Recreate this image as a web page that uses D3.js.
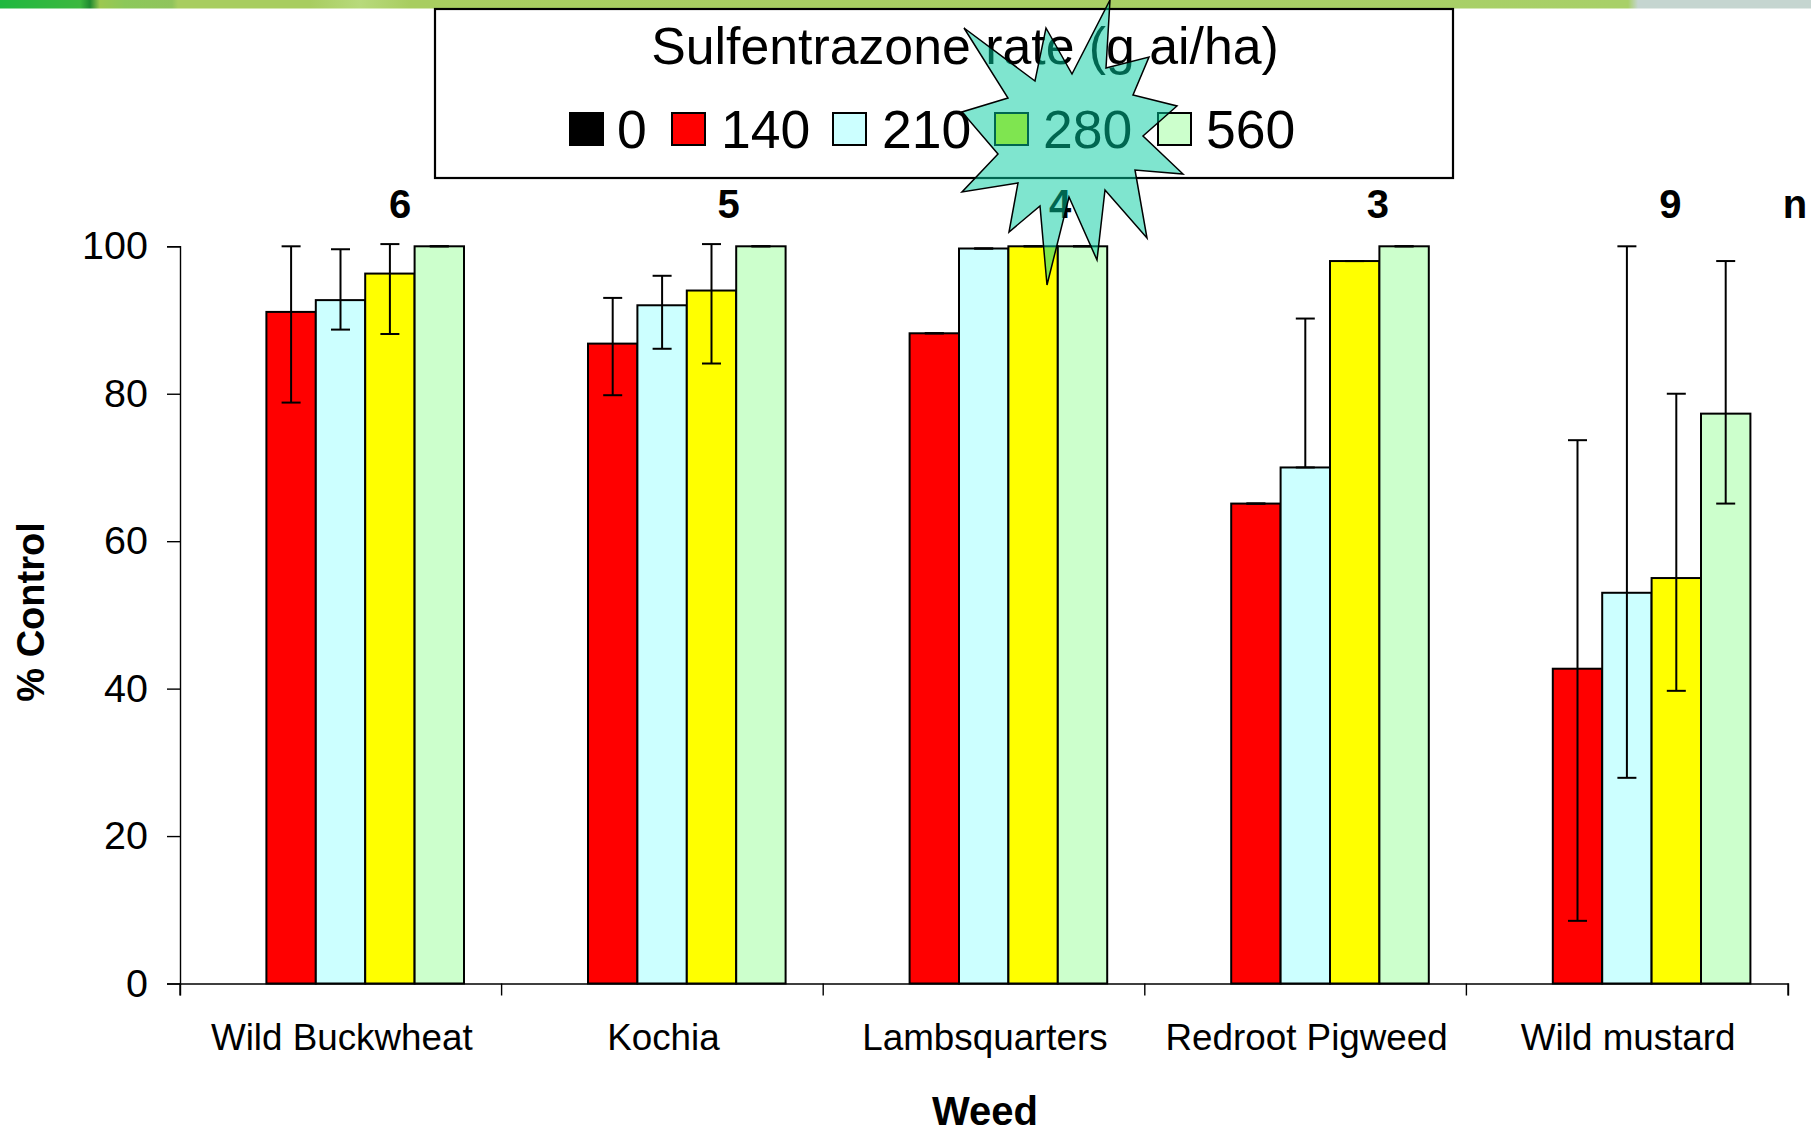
<!DOCTYPE html>
<html>
<head>
<meta charset="utf-8">
<script src="https://cdn.jsdelivr.net/npm/d3@7"></script>
<style>
html, body { margin: 0; padding: 0; background: #fff; overflow: hidden; }
text { font-family: "Liberation Sans", Arial, sans-serif; fill: #000; }
</style>
</head>
<body>
<script>
var width = 1811,
    height = 1128;

var weeds = ["Wild Buckwheat", "Kochia", "Lambsquarters", "Redroot Pigweed", "Wild mustard"];
var nCounts = ["6", "5", "4", "3", "9"];
var rates = ["0", "140", "210", "280", "560"];
var rateColors = ["#000000", "#ff0000", "#ccffff", "#ffff00", "#ccffcc"];
var yTicks = [0, 20, 40, 60, 80, 100];

// one row per weed, one column per rate. the 0 rate has no bar
var values = [
    [0, 91.1, 92.7, 96.3, 100],
    [0, 86.8, 92, 94, 100],
    [0, 88.2, 99.7, 100, 100],
    [0, 65.1, 70, 98, 100],
    [0, 42.7, 53, 55, 77.3]
];
var errLow = [
    [0, 78.8, 88.7, 88.1, 100],
    [0, 79.8, 86.1, 84.1, 100],
    [0, 88.2, 99.7, 100, 100],
    [0, 65.1, 70, 98, 100],
    [0, 8.5, 27.9, 39.7, 65.1]
];
var errHigh = [
    [0, 100, 99.6, 100.3, 100],
    [0, 93, 96, 100.3, 100],
    [0, 88.2, 99.7, 100, 100],
    [0, 65.1, 90.2, 98, 100],
    [0, 73.7, 100, 80, 98]
];

// the burst sits on top of the slide, outline
var burst = [
    [1110, 0], [1106, 68], [1149, 57], [1133, 95], [1177, 106], [1143, 136],
    [1183, 174], [1135, 170], [1147, 238], [1105, 190], [1097, 260], [1069, 197],
    [1047, 285], [1040, 206], [1009, 232], [1018, 183], [962, 192], [998, 154],
    [962, 112], [1008, 98], [964, 28], [1035, 81], [1046, 28], [1072, 74]
];

var svg = d3.select("body")
    .append("svg")
    .attr("width", width)
    .attr("height", height)
    .style("display", "block");

// top strip of the slide background
var stripGrad = svg.append("defs").append("linearGradient")
    .attr("id", "strip")
    .attr("gradientUnits", "userSpaceOnUse")
    .attr("x1", 0).attr("x2", width);
[[0, "#1fb83f"], [80, "#3cb83f"], [90, "#1f8a30"], [100, "#9cc850"], [125, "#8cc85a"], [172, "#90c45c"],
 [178, "#a8cd60"], [310, "#a8cd60"], [360, "#b8da7c"], [410, "#a8cd60"], [1628, "#a8d068"], [1638, "#c5d5d0"], [1811, "#c5d5d0"]].forEach(function(s) {
    stripGrad.append("stop").attr("offset", s[0] / width).attr("stop-color", s[1]);
});
svg.append("rect")
    .attr("width", width)
    .attr("height", 8.5)
    .attr("fill", "url(#strip)");

var x0 = d3.scaleBand().domain(weeds).range([180, 1788]);
var x1 = d3.scaleBand().domain(rates).range([37, 284]);
var y = d3.scaleLinear().domain([0, 100]).range([983.5, 246.3]);

// bars
var groups = svg.selectAll(".weed")
    .data(weeds)
    .enter().append("g")
    .attr("class", "weed")
    .attr("transform", function(d) { return "translate(" + x0(d) + ",0)"; });

groups.selectAll("rect")
    .data(function(d, i) { return rates.slice(1).map(function(r, j) { return {rate: r, v: values[i][j + 1]}; }); })
    .enter().append("rect")
    .attr("x", function(d) { return x1(d.rate); })
    .attr("y", function(d) { return y(d.v); })
    .attr("width", x1.bandwidth())
    .attr("height", function(d) { return y(0) - y(d.v); })
    .attr("fill", function(d) { return rateColors[rates.indexOf(d.rate)]; })
    .attr("stroke", "#000")
    .attr("stroke-width", 2);

// error bars
var errs = groups.selectAll(".err")
    .data(function(d, i) {
        return rates.slice(1).map(function(r, j) {
            return {rate: r, lo: errLow[i][j + 1], hi: errHigh[i][j + 1]};
        });
    })
    .enter().append("g")
    .attr("class", "err")
    .attr("transform", function(d) { return "translate(" + (x1(d.rate) + x1.bandwidth() / 2) + ",0)"; })
    .attr("stroke", "#000")
    .attr("stroke-width", 2);

errs.append("line")
    .attr("y1", function(d) { return y(d.lo); })
    .attr("y2", function(d) { return y(d.hi); });
errs.append("line")
    .attr("x1", -9.5).attr("x2", 9.5)
    .attr("y1", function(d) { return y(d.hi); })
    .attr("y2", function(d) { return y(d.hi); });
errs.append("line")
    .attr("x1", -9.5).attr("x2", 9.5)
    .attr("y1", function(d) { return y(d.lo); })
    .attr("y2", function(d) { return y(d.lo); });

// axes
var yAxis = svg.append("g")
    .attr("transform", "translate(180,0)")
    .call(d3.axisLeft(y).tickValues(yTicks).tickSize(13).tickPadding(19));
yAxis.select(".domain").attr("stroke-width", 1.4);
yAxis.selectAll("line").attr("stroke-width", 1.4);
yAxis.selectAll("text").attr("font-size", 39.5);

var xAxis = svg.append("g")
    .attr("transform", "translate(0,983.5)")
    .call(d3.axisBottom(x0).tickSize(12).tickPadding(28).tickSizeOuter(12));
xAxis.select(".domain").attr("stroke-width", 1.4);
xAxis.selectAll(".tick line")
    .attr("x1", -x0.bandwidth() / 2)
    .attr("x2", -x0.bandwidth() / 2)
    .attr("stroke-width", 1.4);
xAxis.append("line")
    .attr("x1", 1788).attr("x2", 1788)
    .attr("y1", 0).attr("y2", 12)
    .attr("stroke", "#000")
    .attr("stroke-width", 1.4);
xAxis.selectAll("text")
    .attr("font-size", 36.8)
    .attr("dx", 1);

svg.append("text")
    .attr("x", 985)
    .attr("y", 1125)
    .attr("text-anchor", "middle")
    .attr("font-size", 40)
    .attr("font-weight", "bold")
    .text("Weed");

svg.append("text")
    .attr("transform", "translate(44,612) rotate(-90)")
    .attr("text-anchor", "middle")
    .attr("font-size", 38)
    .attr("font-weight", "bold")
    .text("% Control");

// n labels over each group
var nOffsets = [220, 227, 237, 233, 204];
svg.selectAll(".n")
    .data(nCounts)
    .enter().append("text")
    .attr("class", "n")
    .attr("x", function(d, i) { return x0(weeds[i]) + nOffsets[i]; })
    .attr("y", 218)
    .attr("text-anchor", "middle")
    .attr("font-size", 40)
    .attr("font-weight", "bold")
    .text(function(d) { return d; });
svg.append("text")
    .attr("x", 1795)
    .attr("y", 218)
    .attr("text-anchor", "middle")
    .attr("font-size", 40)
    .attr("font-weight", "bold")
    .text("n");

// legend box
svg.append("rect")
    .attr("x", 435)
    .attr("y", 9)
    .attr("width", 1018)
    .attr("height", 169)
    .attr("fill", "#fff")
    .attr("stroke", "#000")
    .attr("stroke-width", 2.2);

svg.append("text")
    .attr("x", 965)
    .attr("y", 64)
    .attr("text-anchor", "middle")
    .attr("font-size", 51.8)
    .text("Sulfentrazone rate (g ai/ha)");

var swatchX = [570, 672, 833, 995, 1158];
var labelX = [617, 721, 882, 1043, 1206];
rates.forEach(function(r, i) {
    svg.append("rect")
        .attr("x", swatchX[i])
        .attr("y", 113)
        .attr("width", 33)
        .attr("height", 32)
        .attr("fill", rateColors[i])
        .attr("stroke", "#000")
        .attr("stroke-width", 2);
    svg.append("text")
        .attr("x", labelX[i])
        .attr("y", 148)
        .attr("font-size", 53.5)
        .text(r);
});

// burst goes over everything and lets it show through
svg.append("polygon")
    .attr("points", burst.map(function(p) { return p.join(","); }).join(" "))
    .attr("fill", "#00cca0")
    .attr("fill-opacity", 0.5)
    .attr("stroke", "#000")
    .attr("stroke-width", 1.5);
</script>
</body>
</html>
